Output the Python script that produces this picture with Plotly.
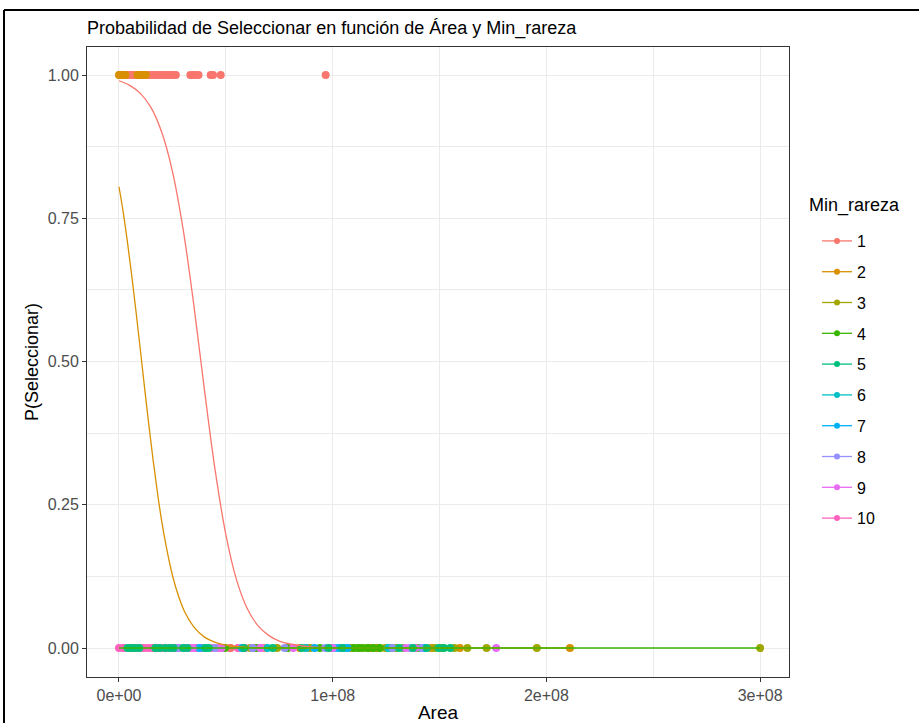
import plotly.graph_objects as go

# ---------------- data (Area in millions) ----------------
levels = ["1", "2", "3", "4", "5", "6", "7", "8", "9", "10"]
colors = ["#F8766D", "#D89000", "#A3A500", "#39B600", "#00BF7D",
          "#00BFC4", "#00B0F6", "#9590FF", "#E76BF3", "#FF62BC"]

# points with Seleccionar = 1
sel_g1 = [0.3, 1.2, 2.0, 3.1, 4.0, 5.2, 6.1, 7.3, 8.0, 9.4, 10.5, 11.8, 13.0, 14.2,
          15.5, 16.3, 17.8, 18.9, 20.2, 21.5, 22.7, 24.0, 25.1, 26.6, 33.4, 34.6,
          35.9, 37.2, 42.9, 44.0, 47.6, 96.7]
sel_g2 = [0.0, 0.6, 1.3, 2.2, 3.0, 8.6, 9.6, 11.2, 12.6]

# points with Seleccionar = 0
nosel_g1 = [52.0, 68.5, 88.0, 104.0]
nosel_g2 = [58.0, 84.5, 109.0, 117.5, 120.5, 146.0, 159.5, 211.0]
nosel_g3 = [61.5, 74.0, 89.5, 99.0, 107.5, 112.5, 116.0, 121.5, 124.5, 129.5, 139.0,
            147.5, 151.5, 157.0, 163.0, 172.0, 195.5, 300.0]
nosel_g4 = [49.5, 64.5, 79.0, 94.0, 105.0, 110.0, 112.0, 114.0, 116.5, 119.0, 122.0,
            127.5, 133.0, 140.5, 150.0]
nosel_g5 = [4.0, 5.6, 7.5, 9.5, 17.0, 19.0, 21.5, 23.5, 25.5, 30.0, 32.0, 40.5, 42.0,
            58.5, 72.0, 85.5, 98.0, 104.5, 131.0, 137.5, 144.0, 149.5, 152.0, 155.0]
nosel_g6 = [40.0, 69.5, 87.5, 100.5, 126.0, 143.5]
nosel_g7 = [37.5, 57.5, 91.5, 102.5, 105.0, 107.0, 142.5]
nosel_g8 = [27.5, 45.0, 62.5, 77.5, 96.5, 128.0, 136.0, 141.5]
nosel_g9 = [34.5, 48.0, 66.0, 81.5, 100.0, 134.0, 138.5, 176.5]
nosel_g10 = [0.0, 1.8, 3.6, 5.4, 7.0, 8.8, 10.6, 12.2, 14.0, 15.8, 17.6, 19.2, 21.0,
             22.8, 24.6, 26.4, 28.0, 30.6, 33.0, 35.8, 38.4, 41.0, 43.8, 46.6, 49.4,
             52.2, 55.6, 59.0, 62.8, 66.5]

# fitted probability curves
curve_x_g1 = [0, 5, 10, 15, 20, 25, 30, 35, 40, 45, 50, 55, 60, 65, 70, 75, 80, 90, 96.7]
curve_p_g1 = [0.990, 0.982, 0.968, 0.943, 0.900, 0.832, 0.731, 0.599, 0.450, 0.310,
              0.198, 0.119, 0.069, 0.039, 0.022, 0.012, 0.007, 0.002, 0.001]
curve_x_g2 = [0, 2, 4, 6, 8, 10, 12, 14, 16, 18, 20, 22, 25, 28, 31, 35, 40, 45, 50,
              60, 80, 211]
curve_p_g2 = [0.805, 0.760, 0.707, 0.649, 0.586, 0.520, 0.453, 0.388, 0.327, 0.271,
              0.221, 0.179, 0.127, 0.089, 0.061, 0.037, 0.019, 0.010, 0.005, 0.001,
              0.0, 0.0]
# near-zero fitted lines of the other groups (start, end of each group's range)
curve_x_flat_g3 = [0, 160]
curve_x_flat_g4 = [0, 300]
curve_x_flat_g5 = [0, 155]
curve_x_flat_g6 = [0, 143.5]
curve_x_flat_g7 = [0, 142.5]
curve_x_flat_g8 = [0, 141.5]
curve_x_flat_g9 = [0, 150]
curve_x_flat_g10 = [0, 66.5]
curve_p_flat = [0.0, 0.0]

x_tickvals = [0, 1e8, 2e8, 3e8]
x_ticktext = ["0e+00", "1e+08", "2e+08", "3e+08"]
y_tickvals = [0, 0.25, 0.5, 0.75, 1.0]
y_ticktext = ["0.00", "0.25", "0.50", "0.75", "1.00"]

M = 1e6
FONT = "Liberation Sans, Arial, sans-serif"

sel = {1: sel_g1, 2: sel_g2}
nosel = {1: nosel_g1, 2: nosel_g2, 3: nosel_g3, 4: nosel_g4, 5: nosel_g5,
         6: nosel_g6, 7: nosel_g7, 8: nosel_g8, 9: nosel_g9, 10: nosel_g10}
curves = {1: (curve_x_g1, curve_p_g1), 2: (curve_x_g2, curve_p_g2),
          3: (curve_x_flat_g3, curve_p_flat), 4: (curve_x_flat_g4, curve_p_flat),
          5: (curve_x_flat_g5, curve_p_flat), 6: (curve_x_flat_g6, curve_p_flat),
          7: (curve_x_flat_g7, curve_p_flat), 8: (curve_x_flat_g8, curve_p_flat),
          9: (curve_x_flat_g9, curve_p_flat), 10: (curve_x_flat_g10, curve_p_flat)}

fig = go.Figure()

# fitted near-zero lines of groups 3..10 first (under the points), except group 4
for g in [3, 5, 6, 7, 8, 9, 10]:
    cx, cp = curves[g]
    fig.add_trace(go.Scatter(x=[v * M for v in cx], y=cp, mode="lines",
                             line=dict(color=colors[g - 1], width=1.2),
                             showlegend=False, hoverinfo="skip"))

# points (draw order chosen so overlaps resemble the reference)
for g in [10, 1, 2, 3, 4, 6, 7, 8, 9, 5]:
    xs = [v * M for v in nosel[g]] + [v * M for v in sel.get(g, [])]
    ys = [0.0] * len(nosel[g]) + [1.0] * len(sel.get(g, []))
    fig.add_trace(go.Scatter(x=xs, y=ys, mode="markers",
                             marker=dict(color=colors[g - 1], size=8, line=dict(width=0)),
                             showlegend=False, hoverinfo="skip"))

# fitted curves on top
for g in [1, 2, 4]:
    cx, cp = curves[g]
    fig.add_trace(go.Scatter(x=[v * M for v in cx], y=cp, mode="lines",
                             line=dict(color=colors[g - 1], width=1.3, shape="spline"),
                             showlegend=False, hoverinfo="skip"))

# legend entries
for g in range(1, 11):
    fig.add_trace(go.Scatter(x=[None], y=[None], mode="lines+markers", name=levels[g - 1],
                             legendgroup=levels[g - 1], legendrank=g,
                             marker=dict(color=colors[g - 1], size=6),
                             line=dict(color=colors[g - 1], width=1.3)))

W, H = 919, 723
L, R, T, B = 87, 130, 47, 46
pw, ph = W - L - R, H - T - B

def px_to_paper_x(px):
    return (px - L) / pw

def px_to_paper_y(py):
    return (H - B - py) / ph

fig.update_layout(
    width=W, height=H,
    margin=dict(l=L, r=R, t=T, b=B),
    paper_bgcolor="white", plot_bgcolor="white",
    font=dict(family=FONT, color="black"),
    title=dict(text="Probabilidad de Seleccionar en función de Área y Min_rareza",
               x=0, xref="paper", xanchor="left", y=1 - 28 / H, yref="container",
               yanchor="middle", font=dict(size=18, color="black")),
    legend=dict(font=dict(size=16, color="black"),
                x=px_to_paper_x(817), xanchor="left", y=px_to_paper_y(224), yanchor="top",
                traceorder="grouped", tracegroupgap=7, bgcolor="rgba(0,0,0,0)",
                itemwidth=30),
    showlegend=True,
)

fig.add_annotation(text="Min_rareza", xref="paper", yref="paper",
                   x=px_to_paper_x(807), y=px_to_paper_y(205), xanchor="left",
                   yanchor="middle", showarrow=False, font=dict(size=18, color="black"))

fig.update_xaxes(
    range=[-1.497e7, 3.135e8], tickvals=x_tickvals, ticktext=x_ticktext,
    showgrid=True, gridcolor="#EBEBEB", gridwidth=1.1, zeroline=False,
    minor=dict(dtick=5e7, tick0=0, showgrid=True, gridcolor="#EBEBEB", gridwidth=0.6),
    showline=True, linecolor="#333333", linewidth=1, mirror=True,
    ticks="outside", ticklen=4, tickcolor="#333333", automargin=False,
    tickfont=dict(size=16, color="#4D4D4D"),
    title=dict(text="Area", font=dict(size=19, color="black"), standoff=6),
)
fig.update_yaxes(
    range=[-0.0506, 1.0489], tickvals=y_tickvals, ticktext=y_ticktext,
    showgrid=True, gridcolor="#EBEBEB", gridwidth=1.1, zeroline=False,
    minor=dict(dtick=0.125, tick0=0, showgrid=True, gridcolor="#EBEBEB", gridwidth=0.6),
    showline=True, linecolor="#333333", linewidth=1, mirror=True,
    ticks="outside", ticklen=4, tickcolor="#333333", automargin=False,
    tickfont=dict(size=16, color="#4D4D4D"),
    title=dict(text="P(Seleccionar)", font=dict(size=18, color="black"), standoff=4),
)

# screenshot frame (left and top black edges)
fig.add_shape(type="line", xref="paper", yref="paper",
              x0=px_to_paper_x(4), x1=px_to_paper_x(4), y0=px_to_paper_y(10), y1=px_to_paper_y(730),
              line=dict(color="black", width=2))
fig.add_shape(type="line", xref="paper", yref="paper",
              x0=px_to_paper_x(4), x1=px_to_paper_x(925), y0=px_to_paper_y(10), y1=px_to_paper_y(10),
              line=dict(color="black", width=2))

fig.write_html("out.html")
